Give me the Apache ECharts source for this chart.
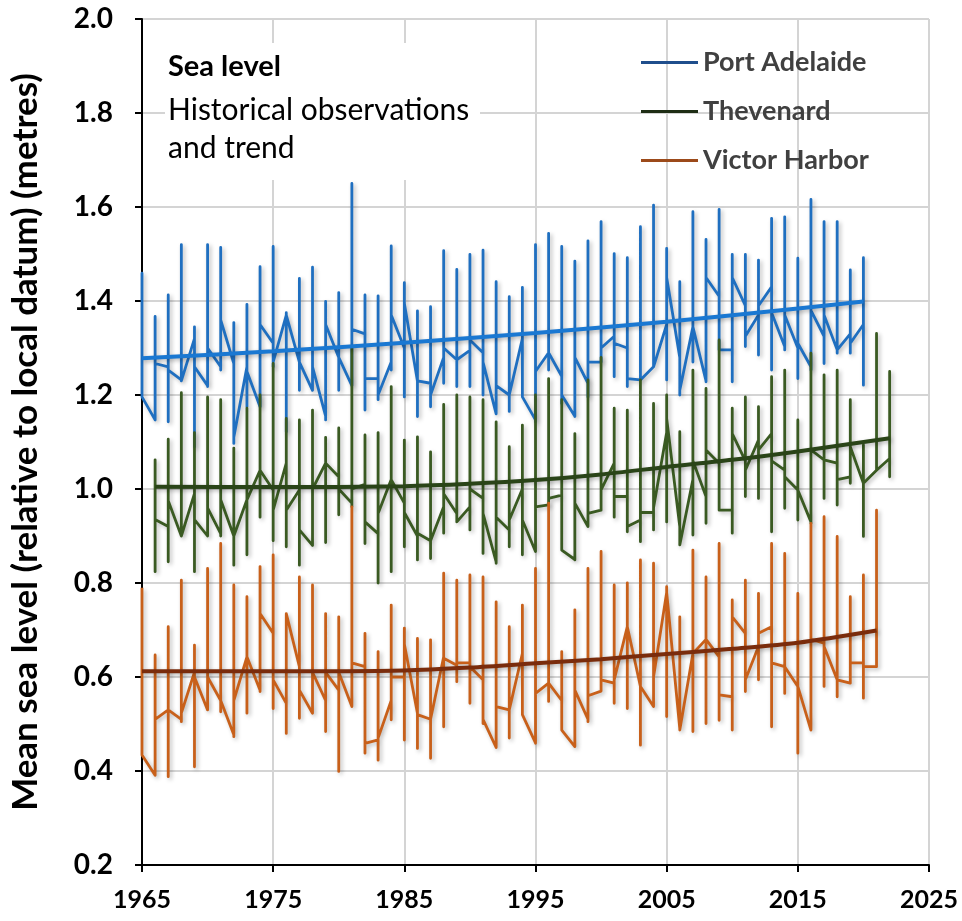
<!DOCTYPE html>
<html><head><meta charset="utf-8">
<script src="https://cdn.jsdelivr.net/npm/echarts@6/dist/echarts.min.js"></script>
<style>html,body{margin:0;padding:0;background:#fff}#c{width:962px;height:921px}</style>
</head><body><div id="c"></div>
<script>
// ---- Data ----
var paYears = [];for (var i=1965;i<=2020;i++) paYears.push(i);
var thYears = [];for (var i=1966;i<=2022;i++) thYears.push(i);
var vhYears = [];for (var i=1965;i<=2021;i++) vhYears.push(i);

// Port Adelaide: per year highest, lowest, first and last value
var paMax = [1.459,1.367,1.413,1.52,1.345,1.52,1.514,1.354,1.393,1.473,1.516,1.375,1.448,1.472,1.399,1.418,1.65,1.413,1.411,1.517,1.439,1.379,1.388,1.507,1.467,1.499,1.508,1.441,1.409,1.429,1.52,1.544,1.516,1.485,1.528,1.569,1.501,1.492,1.558,1.604,1.512,1.441,1.59,1.531,1.595,1.499,1.499,1.487,1.576,1.579,1.491,1.616,1.569,1.569,1.466,1.492];
var paMin = [1.196,1.147,1.143,1.23,1.09,1.218,1.253,1.097,1.175,1.175,1.26,1.122,1.21,1.21,1.147,1.21,1.22,1.168,1.19,1.253,1.196,1.154,1.175,1.225,1.218,1.218,1.20,1.161,1.165,1.196,1.143,1.253,1.182,1.154,1.196,1.27,1.239,1.218,1.232,1.26,1.232,1.2,1.27,1.228,1.296,1.228,1.303,1.285,1.253,1.296,1.235,1.253,1.267,1.289,1.289,1.221];
var paStart = [1.45,1.147,1.26,1.232,1.32,1.22,1.26,1.267,1.26,1.175,1.31,1.37,1.27,1.21,1.155,1.28,1.22,1.33,1.235,1.27,1.3,1.23,1.225,1.28,1.275,1.295,1.29,1.16,1.2,1.32,1.147,1.29,1.24,1.155,1.225,1.27,1.325,1.3,1.232,1.26,1.35,1.28,1.345,1.23,1.41,1.296,1.39,1.37,1.43,1.303,1.3,1.26,1.325,1.296,1.33,1.35];
var paEnd = [1.196,1.267,1.253,1.23,1.26,1.30,1.36,1.11,1.25,1.35,1.27,1.37,1.27,1.26,1.35,1.28,1.34,1.235,1.2,1.37,1.395,1.23,1.2,1.3,1.275,1.317,1.27,1.22,1.2,1.196,1.25,1.29,1.2,1.28,1.27,1.3,1.31,1.235,1.23,1.26,1.45,1.21,1.345,1.45,1.296,1.45,1.325,1.39,1.375,1.37,1.31,1.38,1.37,1.296,1.31,1.35];

// Thevenard
var thMax = [1.062,1.106,1.205,1.12,1.196,1.19,1.087,1.172,1.20,1.267,1.15,1.147,1.168,1.11,1.13,1.30,1.115,1.12,1.218,1.104,1.111,1.079,1.18,1.20,1.196,1.19,1.143,1.09,1.136,1.20,1.235,1.19,1.118,1.232,1.28,1.172,1.168,1.232,1.182,1.2,1.122,1.253,1.214,1.317,1.172,1.196,1.175,1.239,1.253,1.147,1.289,1.243,1.253,1.19,1.094,1.331,1.25];
var thMin = [0.824,0.845,0.90,0.824,0.90,0.90,0.838,0.86,0.94,0.89,0.877,0.838,0.88,0.886,0.945,0.962,0.884,0.80,0.824,0.877,0.849,0.852,0.906,0.93,0.913,0.863,0.842,0.877,0.86,0.867,0.966,0.877,0.849,0.92,0.955,0.94,0.909,0.888,0.913,0.93,0.881,0.902,0.927,0.955,0.906,0.984,0.98,0.909,0.959,0.934,0.927,0.98,0.966,1.012,0.899,1.04,1.026];
var thStart = [0.93,0.92,0.90,0.99,0.90,0.905,0.90,0.977,1.04,0.998,1.055,0.998,0.88,1.055,1.026,0.97,1.01,0.905,1.02,0.97,0.90,0.89,0.962,0.948,0.962,0.98,0.845,0.913,1.0,0.867,0.966,0.987,0.85,0.92,0.955,1.055,0.984,0.934,0.95,1.12,0.92,1.02,0.984,1.055,0.955,1.06,1.104,1.118,1.04,0.998,0.93,1.062,1.055,1.026,1.012,1.04,1.065];
var thEnd = [0.935,0.975,0.90,0.935,0.96,0.977,0.90,0.977,1.04,0.955,0.955,0.913,1.0,1.055,1.0,1.0,0.93,0.948,1.02,0.95,0.906,0.89,0.99,0.93,1.0,0.948,0.94,0.934,0.934,0.962,0.98,0.87,0.97,0.948,0.998,0.984,0.92,0.95,0.96,1.15,0.885,1.06,1.083,0.955,1.118,1.04,1.083,1.06,1.026,0.998,1.083,1.062,1.02,1.09,1.012,1.04,1.065];

// Victor Harbor
var vhMax = [0.792,0.647,0.707,0.806,0.668,0.831,0.884,0.796,0.771,0.835,0.86,0.735,0.813,0.796,0.735,0.728,0.962,0.693,0.654,0.753,0.704,0.682,0.679,0.821,0.806,0.817,0.813,0.76,0.707,0.753,0.831,0.97,0.654,0.743,0.831,0.867,0.796,0.8,0.849,0.842,0.792,0.728,0.87,0.813,0.884,0.764,0.806,0.778,0.884,0.863,0.778,0.927,0.941,0.899,0.771,0.817,0.955];
var vhMin = [0.434,0.391,0.388,0.505,0.409,0.53,0.526,0.473,0.523,0.569,0.533,0.48,0.512,0.523,0.484,0.399,0.537,0.438,0.423,0.509,0.466,0.448,0.427,0.494,0.59,0.544,0.501,0.45,0.47,0.52,0.459,0.548,0.487,0.452,0.505,0.57,0.544,0.533,0.455,0.537,0.516,0.487,0.484,0.501,0.508,0.487,0.569,0.594,0.494,0.565,0.438,0.487,0.58,0.558,0.587,0.555,0.622];
var vhStart = [0.79,0.391,0.53,0.51,0.61,0.53,0.55,0.477,0.643,0.572,0.693,0.544,0.622,0.523,0.55,0.572,0.537,0.622,0.466,0.55,0.6,0.523,0.51,0.643,0.625,0.63,0.594,0.45,0.53,0.65,0.46,0.587,0.55,0.452,0.51,0.57,0.587,0.707,0.58,0.537,0.78,0.49,0.65,0.68,0.643,0.558,0.693,0.665,0.707,0.622,0.58,0.487,0.672,0.594,0.587,0.63,0.622];
var vhEnd = [0.434,0.51,0.53,0.523,0.6,0.6,0.55,0.55,0.643,0.735,0.594,0.735,0.572,0.61,0.61,0.61,0.63,0.459,0.47,0.6,0.67,0.52,0.51,0.64,0.63,0.622,0.51,0.537,0.53,0.52,0.565,0.587,0.487,0.572,0.56,0.594,0.594,0.707,0.58,0.6,0.78,0.49,0.65,0.68,0.562,0.728,0.594,0.693,0.63,0.622,0.58,0.68,0.665,0.594,0.63,0.622,0.64];

// Trend lines
var paTrendYears = [1965,1975,1985,1995,2005,2015,2020];
var paTrend = [1.278,1.293,1.311,1.332,1.356,1.384,1.399];
var thTrendYears = [1966,1975,1985,1990,1995,2000,2005,2010,2015,2022];
var thTrend = [1.005,1.004,1.006,1.011,1.019,1.031,1.047,1.062,1.08,1.108];
var vhTrendYears = [1965,1975,1985,1990,1995,2000,2005,2010,2015,2021];
var vhTrend = [0.612,0.612,0.614,0.62,0.629,0.638,0.649,0.66,0.673,0.699];

function buildPath(years, st, mx, mn, en) {
  var out = [];
  for (var i = 0; i < years.length; i++) {
    out.push([years[i], st[i]]);
    out.push([years[i], mx[i]]);
    out.push([years[i], mn[i]]);
    out.push([years[i], en[i]]);
  }
  return out;
}
function pairs(xs, ys) { return xs.map(function (x, i) { return [x, ys[i]]; }); }

var shadow = {shadowColor:'rgba(0,0,0,0.28)', shadowBlur:4, shadowOffsetX:2, shadowOffsetY:2};
function dataLine(name, data, color) {
  return {name:name, type:'line', data:data, showSymbol:false, symbol:'none', silent:true,
    lineStyle: Object.assign({color:color, width:2.8, join:'round'}, shadow), z:2};
}
function trendLine(data, color) {
  return {type:'line', data:data, smooth:0.3, showSymbol:false, symbol:'none', silent:true,
    lineStyle: Object.assign({color:color, width:4}, shadow), z:5};
}

var chart = echarts.init(document.getElementById('c'), null, {renderer:'canvas'});
chart.setOption({
  backgroundColor:'#fff',
  animation:false,
  grid:{left:137, right:33, top:19, bottom:56, containLabel:false},
  xAxis:{type:'value', min:1965, max:2025, interval:10,
    axisLine:{show:true, onZero:false, lineStyle:{color:'#000', width:2}},
    axisTick:{show:true, length:7, lineStyle:{color:'#000', width:2}},
    axisLabel:{margin:22, color:'#000', fontFamily:'Lato', fontWeight:'bold', fontSize:25, formatter:function(v){return String(v);}},
    splitLine:{show:true, lineStyle:{color:'#d4d4d4', width:2}}},
  yAxis:{type:'value', min:0.2, max:2.0, interval:0.2,
    name:'Mean sea level (relative to local datum) (metres)', nameLocation:'middle', nameGap:99,
    nameTextStyle:{fontFamily:'Lato', fontWeight:'bold', fontSize:35, color:'#000'},
    axisLine:{show:true, onZero:false, lineStyle:{color:'#000', width:2}},
    axisTick:{show:true, length:7, lineStyle:{color:'#000', width:2}},
    axisLabel:{margin:29, color:'#000', fontFamily:'Lato', fontWeight:'bold', fontSize:28, formatter:function(v){return v.toFixed(1);}},
    splitLine:{show:true, lineStyle:{color:'#d4d4d4', width:2}}},
  legend:{orient:'vertical', left:636, top:44, itemWidth:57, itemHeight:3, itemGap:22, icon:'rect',
    textStyle:{fontFamily:'Lato', fontWeight:'bold', fontSize:27, color:'#404040'},
    data:[{name:'Port Adelaide', itemStyle:{color:'#1f4e8c'}},
          {name:'Thevenard', itemStyle:{color:'#1e2d14'}},
          {name:'Victor Harbor', itemStyle:{color:'#9c4a1a'}}]},
  graphic:[
    {type:'rect', shape:{x:165, y:43, width:315, height:137}, style:{fill:'#fff'}, z:1},
    {type:'text', left:168, top:52, style:{text:'Sea level', fontFamily:'Lato', fontWeight:'bold', fontSize:29, fill:'#000'}, z:3},
    {type:'text', left:168, top:91, style:{text:'Historical observations\nand trend', fontFamily:'Lato', fontSize:30, lineHeight:38, fill:'#000'}, z:3}
  ],
  series:[
    dataLine('Port Adelaide', buildPath(paYears, paStart, paMax, paMin, paEnd), '#1f6fc0'),
    dataLine('Thevenard', buildPath(thYears, thStart, thMax, thMin, thEnd), '#3a5a22'),
    dataLine('Victor Harbor', buildPath(vhYears, vhStart, vhMax, vhMin, vhEnd), '#c8601a'),
    trendLine(pairs(paTrendYears, paTrend), '#1a78d2'),
    trendLine(pairs(thTrendYears, thTrend), '#2a4418'),
    trendLine(pairs(vhTrendYears, vhTrend), '#7a2c0c')
  ]
});
</script></body></html>
